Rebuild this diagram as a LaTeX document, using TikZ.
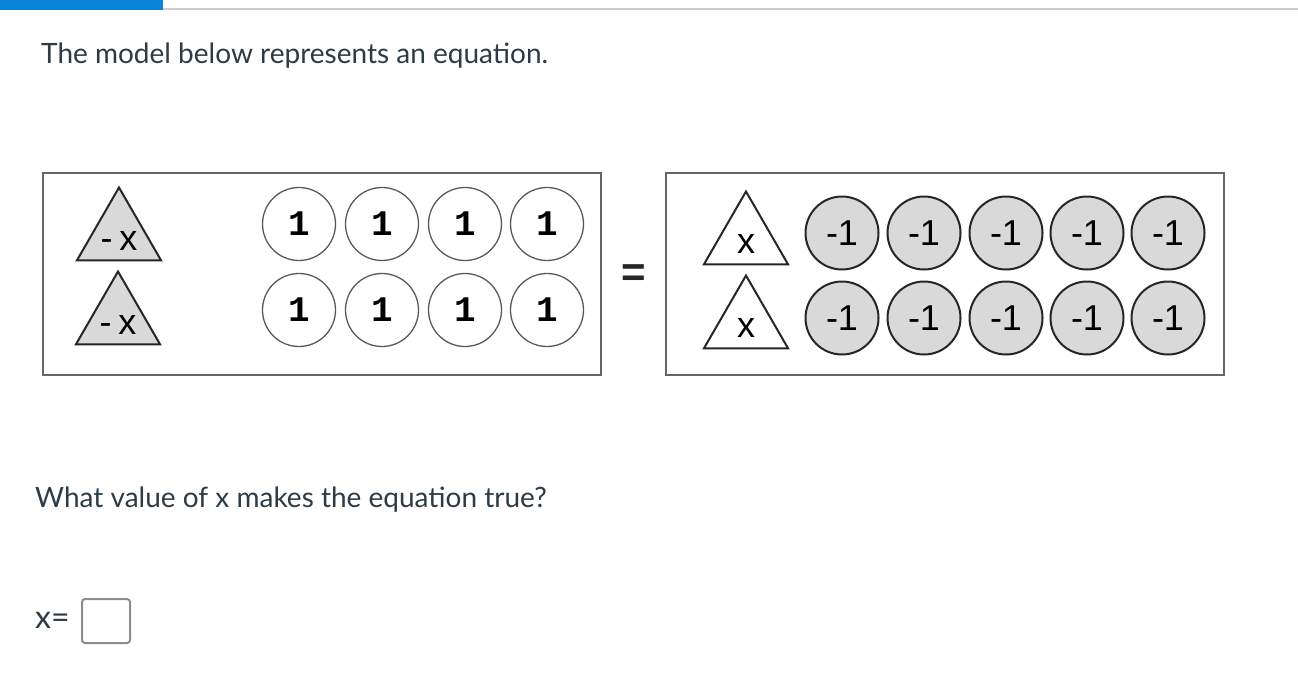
\documentclass[tikz,border=0pt]{standalone}
\usepackage{fontspec}
\setmainfont{Lato}
\newfontfamily\tilefont{Liberation Sans}
\newfontfamily\onefont{Liberation Mono}
\usetikzlibrary{shapes.geometric}
\definecolor{inktext}{HTML}{2D3B45}
\definecolor{barblue}{HTML}{0A84D8}
\definecolor{tilegray}{HTML}{D9D9D9}
\tikzset{
panel/.style={
	  draw=black!60, line width=2pt, minimum width=558, minimum height=202},
xtile/.style={
	  draw=black!85, line width=2pt, regular polygon, regular polygon sides=3,
	    minimum size=97, inner sep=0pt},
xname/.style={inner sep=0pt, font=\tilefont\fontsize{36}{36}\selectfont},
onetile/.style={
	  draw=black!65, line width=1.3pt, circle, minimum size=73, inner sep=0pt,
	    font=\onefont\bfseries\fontsize{36}{36}\selectfont},
negtile/.style={
	  draw=black!85, line width=2pt, circle, fill=tilegray, minimum size=73,
	    inner sep=0pt, font=\tilefont\fontsize{36}{36}\selectfont},
prompt/.style={anchor=base west, inner sep=0pt, text=inktext,
	  font=\fontsize{28}{32}\selectfont}
}

\begin{document}
\begin{tikzpicture}[x=1pt, y=-1pt]
	\useasboundingbox (0,0) rectangle (1298,686);
	% header bar
	\fill[barblue] (0,0) rectangle (163,10);
	\draw[black!20, line width=2pt] (163,9) -- (1298,9);
	\node[prompt] (intro) at (41,63) {The model below represents an equation.};
	% left side
	\node[panel] (lhs) at (322,274) {};
	\node[xtile, fill=tilegray] (lx1) at (119,236) {};
	\node[xtile, fill=tilegray] (lx2) at (118,320) {};
	\node[xname] at ([shift={(0,5)}]lx1.center) {-\hspace{7pt}x};
	\node[xname] at ([shift={(0,5)}]lx2.center) {-\hspace{7pt}x};
	\foreach \i/\x in {1/299,2/382,3/465,4/547}{
		\node[onetile] (pa\i) at (\x,224) {1};
		\node[onetile] (pb\i) at (\x,310) {1};
	}
	\node[font=\tilefont\bfseries\fontsize{42}{42}\selectfont, text=black!85] (eq) at (634,276) {=};
	% right side
	\node[panel] (rhs) at (945,274) {};
	\node[xtile] (rx1) at (746,240) {};
	\node[xtile] (rx2) at (746,324) {};
	\node[xname] at ([yshift=-4]rx1.center) {x};
	\node[xname] at ([yshift=-4]rx2.center) {x};
	\foreach \i/\x in {1/842,2/924,3/1006,4/1087,5/1168}{
		\node[negtile] (na\i) at (\x,233) {-1};
		\node[negtile] (nb\i) at (\x,318) {-1};
	}
	% question
	\node[prompt] (ask) at (35,507) {What value of x makes the equation true?};
	\node[prompt, font=\fontsize{32}{32}\selectfont] (xeq) at (35,628) {x=};
	\node[draw=black!45, line width=2pt, rounded corners=3pt, minimum width=48,
	  minimum height=44, inner sep=0pt] (answer) at (106,621) {};
\end{tikzpicture}
\end{document}
